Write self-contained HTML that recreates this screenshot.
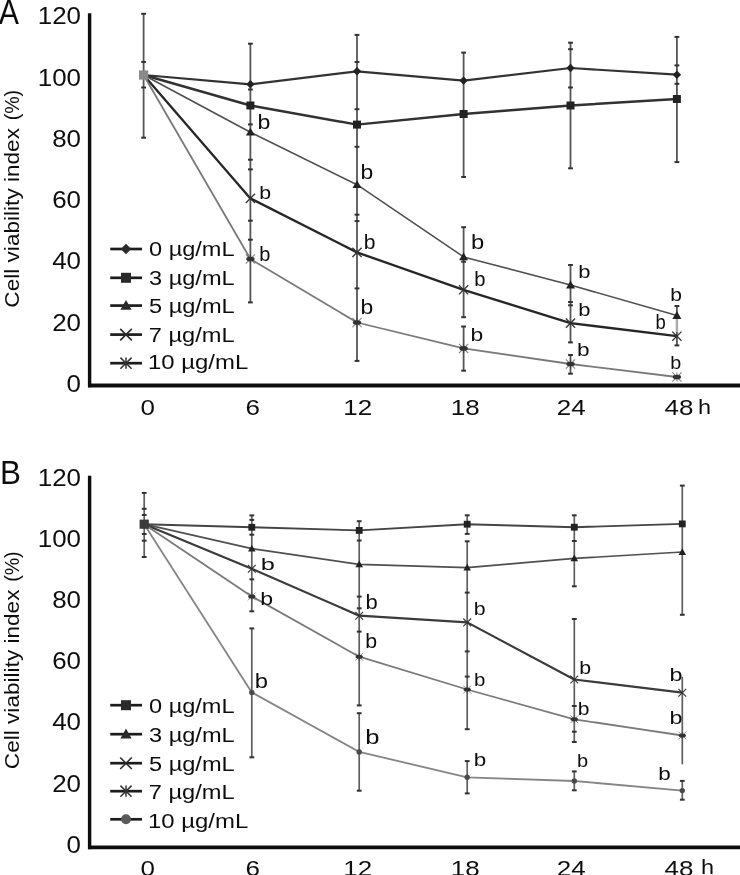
<!DOCTYPE html>
<html><head><meta charset="utf-8"><style>
html,body{margin:0;padding:0;background:#fff;}
body{width:740px;height:875px;overflow:hidden;font-family:"Liberation Sans",sans-serif;}
svg{display:block;will-change:transform;}
</style></head><body>
<svg width="740" height="875" viewBox="0 0 740 875" font-family="Liberation Sans, sans-serif">
<defs><filter id="bl" x="0" y="0" width="740" height="875" filterUnits="userSpaceOnUse"><feGaussianBlur stdDeviation="0.45"/></filter></defs>
<rect width="740" height="875" fill="#fff"/>
<g filter="url(#bl)">
<line x1="89.6" y1="13.3" x2="89.6" y2="387.3" stroke="#111" stroke-width="3.4"/>
<line x1="88" y1="385.5" x2="740" y2="385.5" stroke="#111" stroke-width="3.8"/>
<text transform="translate(66.60,392.06) scale(1.080,1)" font-size="24.00" fill="#111">0</text>
<text transform="translate(52.18,330.76) scale(1.080,1)" font-size="24.00" fill="#111">20</text>
<text transform="translate(52.18,269.46) scale(1.080,1)" font-size="24.00" fill="#111">40</text>
<text transform="translate(52.18,208.16) scale(1.080,1)" font-size="24.00" fill="#111">60</text>
<text transform="translate(52.18,146.86) scale(1.080,1)" font-size="24.00" fill="#111">80</text>
<text transform="translate(37.77,85.56) scale(1.080,1)" font-size="24.00" fill="#111">100</text>
<text transform="translate(37.77,24.26) scale(1.080,1)" font-size="24.00" fill="#111">120</text>
<text transform="translate(140.47,414.95) scale(1.140,1)" font-size="22.80" fill="#111">0</text>
<text transform="translate(245.48,414.95) scale(1.140,1)" font-size="22.80" fill="#111">6</text>
<text transform="translate(343.31,415.06) scale(1.140,1)" font-size="22.80" fill="#111">12</text>
<text transform="translate(450.82,414.95) scale(1.140,1)" font-size="22.80" fill="#111">18</text>
<text transform="translate(556.77,415.06) scale(1.140,1)" font-size="22.80" fill="#111">24</text>
<text transform="translate(664.61,414.95) scale(1.140,1)" font-size="22.80" fill="#111">48</text>
<text transform="translate(697.97,413.60) scale(1.200,1)" font-size="19.60" fill="#111">h</text>
<line x1="676.9" y1="318" x2="676.9" y2="332" stroke="#aaa" stroke-width="2.4"/>
<line x1="143.6" y1="13.8" x2="143.6" y2="137.7" stroke="#555" stroke-width="1.8"/>
<line x1="141.2" y1="13.8" x2="146.0" y2="13.8" stroke="#333" stroke-width="2"/>
<line x1="141.2" y1="61.9" x2="146.0" y2="61.9" stroke="#333" stroke-width="2"/>
<line x1="141.2" y1="87.5" x2="146.0" y2="87.5" stroke="#333" stroke-width="2"/>
<line x1="141.2" y1="137.7" x2="146.0" y2="137.7" stroke="#333" stroke-width="2"/>
<line x1="250.4" y1="43.7" x2="250.4" y2="302.4" stroke="#555" stroke-width="1.8"/>
<line x1="248.0" y1="43.7" x2="252.8" y2="43.7" stroke="#333" stroke-width="2"/>
<line x1="248.0" y1="89.5" x2="252.8" y2="89.5" stroke="#333" stroke-width="2"/>
<line x1="248.0" y1="124.4" x2="252.8" y2="124.4" stroke="#333" stroke-width="2"/>
<line x1="248.0" y1="159.7" x2="252.8" y2="159.7" stroke="#333" stroke-width="2"/>
<line x1="248.0" y1="169.4" x2="252.8" y2="169.4" stroke="#333" stroke-width="2"/>
<line x1="248.0" y1="220.7" x2="252.8" y2="220.7" stroke="#333" stroke-width="2"/>
<line x1="248.0" y1="239.7" x2="252.8" y2="239.7" stroke="#333" stroke-width="2"/>
<line x1="248.0" y1="302.4" x2="252.8" y2="302.4" stroke="#333" stroke-width="2"/>
<line x1="357.0" y1="34.9" x2="357.0" y2="360.9" stroke="#555" stroke-width="1.8"/>
<line x1="354.6" y1="34.9" x2="359.4" y2="34.9" stroke="#333" stroke-width="2"/>
<line x1="354.6" y1="62.0" x2="359.4" y2="62.0" stroke="#333" stroke-width="2"/>
<line x1="354.6" y1="109.2" x2="359.4" y2="109.2" stroke="#333" stroke-width="2"/>
<line x1="354.6" y1="146.8" x2="359.4" y2="146.8" stroke="#333" stroke-width="2"/>
<line x1="354.6" y1="214.7" x2="359.4" y2="214.7" stroke="#333" stroke-width="2"/>
<line x1="354.6" y1="221.1" x2="359.4" y2="221.1" stroke="#333" stroke-width="2"/>
<line x1="354.6" y1="288.4" x2="359.4" y2="288.4" stroke="#333" stroke-width="2"/>
<line x1="354.6" y1="360.9" x2="359.4" y2="360.9" stroke="#333" stroke-width="2"/>
<line x1="463.6" y1="52.6" x2="463.6" y2="177.0" stroke="#555" stroke-width="1.8"/>
<line x1="463.6" y1="227.2" x2="463.6" y2="317.2" stroke="#555" stroke-width="1.8"/>
<line x1="463.6" y1="326.5" x2="463.6" y2="370.7" stroke="#555" stroke-width="1.8"/>
<line x1="461.2" y1="52.6" x2="466.0" y2="52.6" stroke="#333" stroke-width="2"/>
<line x1="461.2" y1="177.0" x2="466.0" y2="177.0" stroke="#333" stroke-width="2"/>
<line x1="461.2" y1="227.2" x2="466.0" y2="227.2" stroke="#333" stroke-width="2"/>
<line x1="461.2" y1="261.7" x2="466.0" y2="261.7" stroke="#333" stroke-width="2"/>
<line x1="461.2" y1="317.2" x2="466.0" y2="317.2" stroke="#333" stroke-width="2"/>
<line x1="461.2" y1="326.5" x2="466.0" y2="326.5" stroke="#333" stroke-width="2"/>
<line x1="461.2" y1="370.7" x2="466.0" y2="370.7" stroke="#333" stroke-width="2"/>
<line x1="570.5" y1="42.7" x2="570.5" y2="168.3" stroke="#555" stroke-width="1.8"/>
<line x1="570.5" y1="265.0" x2="570.5" y2="342.4" stroke="#555" stroke-width="1.8"/>
<line x1="570.5" y1="355.0" x2="570.5" y2="373.7" stroke="#555" stroke-width="1.8"/>
<line x1="568.1" y1="42.7" x2="572.9" y2="42.7" stroke="#333" stroke-width="2"/>
<line x1="568.1" y1="49.2" x2="572.9" y2="49.2" stroke="#333" stroke-width="2"/>
<line x1="568.1" y1="87.5" x2="572.9" y2="87.5" stroke="#333" stroke-width="2"/>
<line x1="568.1" y1="168.3" x2="572.9" y2="168.3" stroke="#333" stroke-width="2"/>
<line x1="568.1" y1="265.0" x2="572.9" y2="265.0" stroke="#333" stroke-width="2"/>
<line x1="568.1" y1="302.0" x2="572.9" y2="302.0" stroke="#333" stroke-width="2"/>
<line x1="568.1" y1="305.3" x2="572.9" y2="305.3" stroke="#333" stroke-width="2"/>
<line x1="568.1" y1="342.4" x2="572.9" y2="342.4" stroke="#333" stroke-width="2"/>
<line x1="568.1" y1="355.0" x2="572.9" y2="355.0" stroke="#333" stroke-width="2"/>
<line x1="568.1" y1="373.7" x2="572.9" y2="373.7" stroke="#333" stroke-width="2"/>
<line x1="676.9" y1="36.9" x2="676.9" y2="162.1" stroke="#555" stroke-width="1.8"/>
<line x1="676.9" y1="306.0" x2="676.9" y2="318.0" stroke="#555" stroke-width="1.8"/>
<line x1="676.9" y1="332.0" x2="676.9" y2="345.4" stroke="#555" stroke-width="1.8"/>
<line x1="674.5" y1="36.9" x2="679.3" y2="36.9" stroke="#333" stroke-width="2"/>
<line x1="674.5" y1="65.4" x2="679.3" y2="65.4" stroke="#333" stroke-width="2"/>
<line x1="674.5" y1="83.8" x2="679.3" y2="83.8" stroke="#333" stroke-width="2"/>
<line x1="674.5" y1="162.1" x2="679.3" y2="162.1" stroke="#333" stroke-width="2"/>
<line x1="674.5" y1="306.0" x2="679.3" y2="306.0" stroke="#333" stroke-width="2"/>
<line x1="674.5" y1="345.4" x2="679.3" y2="345.4" stroke="#333" stroke-width="2"/>
<polyline points="143.6,75.0 250.4,84.3 357.0,71.3 463.6,80.6 570.5,68.0 676.9,74.7" fill="none" stroke="#333" stroke-width="2.2" stroke-linejoin="round"/>
<polyline points="143.6,75.0 250.4,105.5 357.0,124.6 463.6,114.0 570.5,105.5 676.9,99.0" fill="none" stroke="#303030" stroke-width="2.4" stroke-linejoin="round"/>
<polyline points="143.6,75.0 250.4,132.2 357.0,184.7 463.6,256.9 570.5,285.0 676.9,315.5" fill="none" stroke="#505050" stroke-width="1.6" stroke-linejoin="round"/>
<polyline points="143.6,75.0 250.4,198.4 357.0,252.4 463.6,289.8 570.5,323.1 676.9,336.2" fill="none" stroke="#262626" stroke-width="2.3" stroke-linejoin="round"/>
<polyline points="143.6,75.0 250.4,259.0 357.0,322.5 463.6,348.4 570.5,364.0 676.9,377.0" fill="none" stroke="#7a7a7a" stroke-width="1.8" stroke-linejoin="round"/>
<path d="M250.4,80.1L254.6,84.3L250.4,88.5L246.2,84.3Z" fill="#222"/>
<path d="M357.0,67.1L361.2,71.3L357.0,75.5L352.8,71.3Z" fill="#222"/>
<path d="M463.6,76.4L467.8,80.6L463.6,84.8L459.4,80.6Z" fill="#222"/>
<path d="M570.5,63.8L574.7,68.0L570.5,72.2L566.3,68.0Z" fill="#222"/>
<path d="M676.9,70.5L681.1,74.7L676.9,78.9L672.7,74.7Z" fill="#222"/>
<rect x="246.4" y="101.5" width="8.0" height="8.0" fill="#222"/>
<rect x="353.0" y="120.6" width="8.0" height="8.0" fill="#222"/>
<rect x="459.6" y="110.0" width="8.0" height="8.0" fill="#222"/>
<rect x="566.5" y="101.5" width="8.0" height="8.0" fill="#222"/>
<rect x="672.9" y="95.0" width="8.0" height="8.0" fill="#222"/>
<path d="M250.4,127.7L254.9,135.6L245.9,135.6Z" fill="#222"/>
<path d="M357.0,180.2L361.5,188.1L352.5,188.1Z" fill="#222"/>
<path d="M463.6,252.4L468.1,260.3L459.1,260.3Z" fill="#222"/>
<path d="M570.5,280.5L575.0,288.4L566.0,288.4Z" fill="#222"/>
<path d="M676.9,311.0L681.4,318.9L672.4,318.9Z" fill="#222"/>
<path d="M245.8,193.8L255.0,203.0M255.0,193.8L245.8,203.0" stroke="#333" stroke-width="1.30" fill="none"/>
<path d="M352.4,247.8L361.6,257.0M361.6,247.8L352.4,257.0" stroke="#333" stroke-width="1.30" fill="none"/>
<path d="M459.0,285.2L468.2,294.4M468.2,285.2L459.0,294.4" stroke="#333" stroke-width="1.30" fill="none"/>
<path d="M565.9,318.5L575.1,327.7M575.1,318.5L565.9,327.7" stroke="#333" stroke-width="1.30" fill="none"/>
<path d="M672.3,331.6L681.5,340.8M681.5,331.6L672.3,340.8" stroke="#333" stroke-width="1.30" fill="none"/>
<path d="M245.8,254.4L255.0,263.6M255.0,254.4L245.8,263.6M250.4,254.4L250.4,263.6" stroke="#333" stroke-opacity="0.6" stroke-width="1.10" fill="none"/>
<ellipse cx="250.4" cy="259.0" rx="4.2" ry="2.3" fill="#333"/>
<path d="M352.4,317.9L361.6,327.1M361.6,317.9L352.4,327.1M357.0,317.9L357.0,327.1" stroke="#333" stroke-opacity="0.6" stroke-width="1.10" fill="none"/>
<ellipse cx="357.0" cy="322.5" rx="4.2" ry="2.3" fill="#333"/>
<path d="M459.0,343.8L468.2,353.0M468.2,343.8L459.0,353.0M463.6,343.8L463.6,353.0" stroke="#333" stroke-opacity="0.6" stroke-width="1.10" fill="none"/>
<ellipse cx="463.6" cy="348.4" rx="4.2" ry="2.3" fill="#333"/>
<path d="M565.9,359.4L575.1,368.6M575.1,359.4L565.9,368.6M570.5,359.4L570.5,368.6" stroke="#333" stroke-opacity="0.6" stroke-width="1.10" fill="none"/>
<ellipse cx="570.5" cy="364.0" rx="4.2" ry="2.3" fill="#333"/>
<path d="M672.3,372.4L681.5,381.6M681.5,372.4L672.3,381.6M676.9,372.4L676.9,381.6" stroke="#333" stroke-opacity="0.6" stroke-width="1.10" fill="none"/>
<ellipse cx="676.9" cy="377.0" rx="4.2" ry="2.3" fill="#333"/>
<rect x="139.0" y="70.4" width="9.2" height="9.2" fill="#8a8a8a"/>
<text transform="translate(257.61,128.71) scale(1.171,1)" font-size="19.74" fill="#111" >b</text>
<text transform="translate(259.22,199.31) scale(1.112,1)" font-size="19.20" fill="#111" >b</text>
<text transform="translate(259.31,261.40) scale(0.993,1)" font-size="20.15" fill="#111" >b</text>
<text transform="translate(360.62,178.90) scale(1.136,1)" font-size="20.15" fill="#111" >b</text>
<text transform="translate(363.74,249.10) scale(1.048,1)" font-size="20.15" fill="#111" >b</text>
<text transform="translate(360.62,313.80) scale(1.136,1)" font-size="20.15" fill="#111" >b</text>
<text transform="translate(470.97,249.20) scale(1.181,1)" font-size="20.15" fill="#111" >b</text>
<text transform="translate(474.20,286.41) scale(1.032,1)" font-size="19.61" fill="#111" >b</text>
<text transform="translate(470.62,341.11) scale(1.193,1)" font-size="19.20" fill="#111" >b</text>
<text transform="translate(578.18,278.21) scale(1.147,1)" font-size="19.20" fill="#111" >b</text>
<text transform="translate(578.18,315.81) scale(1.155,1)" font-size="19.06" fill="#111" >b</text>
<text transform="translate(576.94,356.01) scale(1.181,1)" font-size="19.20" fill="#111" >b</text>
<text transform="translate(670.14,301.42) scale(1.132,1)" font-size="18.66" fill="#111" >b</text>
<text transform="translate(655.51,328.80) scale(0.892,1)" font-size="20.70" fill="#111" >b</text>
<text transform="translate(670.22,368.73) scale(1.127,1)" font-size="17.57" fill="#111" >b</text>
<line x1="89.6" y1="475.7" x2="89.6" y2="849.1999999999999" stroke="#111" stroke-width="3.4"/>
<line x1="88" y1="847.4" x2="740" y2="847.4" stroke="#111" stroke-width="3.8"/>
<text transform="translate(66.60,852.76) scale(1.080,1)" font-size="24.00" fill="#111">0</text>
<text transform="translate(52.18,791.56) scale(1.080,1)" font-size="24.00" fill="#111">20</text>
<text transform="translate(52.18,730.36) scale(1.080,1)" font-size="24.00" fill="#111">40</text>
<text transform="translate(52.18,669.16) scale(1.080,1)" font-size="24.00" fill="#111">60</text>
<text transform="translate(52.18,607.96) scale(1.080,1)" font-size="24.00" fill="#111">80</text>
<text transform="translate(37.77,546.76) scale(1.080,1)" font-size="24.00" fill="#111">100</text>
<text transform="translate(37.77,485.56) scale(1.080,1)" font-size="24.00" fill="#111">120</text>
<text transform="translate(140.47,875.65) scale(1.140,1)" font-size="22.80" fill="#111">0</text>
<text transform="translate(245.48,875.65) scale(1.140,1)" font-size="22.80" fill="#111">6</text>
<text transform="translate(343.31,875.76) scale(1.140,1)" font-size="22.80" fill="#111">12</text>
<text transform="translate(450.82,875.65) scale(1.140,1)" font-size="22.80" fill="#111">18</text>
<text transform="translate(556.77,875.76) scale(1.140,1)" font-size="22.80" fill="#111">24</text>
<text transform="translate(664.61,875.65) scale(1.140,1)" font-size="22.80" fill="#111">48</text>
<text transform="translate(700.97,874.30) scale(1.200,1)" font-size="19.60" fill="#111">h</text>
<line x1="144.2" y1="492.9" x2="144.2" y2="557.0" stroke="#5e5e5e" stroke-width="1.7"/>
<line x1="141.8" y1="492.9" x2="146.6" y2="492.9" stroke="#333" stroke-width="2"/>
<line x1="141.8" y1="508.8" x2="146.6" y2="508.8" stroke="#333" stroke-width="2"/>
<line x1="141.8" y1="515.0" x2="146.6" y2="515.0" stroke="#333" stroke-width="2"/>
<line x1="141.8" y1="534.0" x2="146.6" y2="534.0" stroke="#333" stroke-width="2"/>
<line x1="141.8" y1="540.7" x2="146.6" y2="540.7" stroke="#333" stroke-width="2"/>
<line x1="141.8" y1="557.0" x2="146.6" y2="557.0" stroke="#333" stroke-width="2"/>
<line x1="251.8" y1="515.4" x2="251.8" y2="611.3" stroke="#5e5e5e" stroke-width="1.7"/>
<line x1="251.8" y1="628.4" x2="251.8" y2="757.3" stroke="#5e5e5e" stroke-width="1.7"/>
<line x1="249.4" y1="515.4" x2="254.2" y2="515.4" stroke="#333" stroke-width="2"/>
<line x1="249.4" y1="519.9" x2="254.2" y2="519.9" stroke="#333" stroke-width="2"/>
<line x1="249.4" y1="534.7" x2="254.2" y2="534.7" stroke="#333" stroke-width="2"/>
<line x1="249.4" y1="579.3" x2="254.2" y2="579.3" stroke="#333" stroke-width="2"/>
<line x1="249.4" y1="611.3" x2="254.2" y2="611.3" stroke="#333" stroke-width="2"/>
<line x1="249.4" y1="628.4" x2="254.2" y2="628.4" stroke="#333" stroke-width="2"/>
<line x1="249.4" y1="757.3" x2="254.2" y2="757.3" stroke="#333" stroke-width="2"/>
<line x1="359.2" y1="521.2" x2="359.2" y2="705.4" stroke="#5e5e5e" stroke-width="1.7"/>
<line x1="359.2" y1="713.2" x2="359.2" y2="790.7" stroke="#5e5e5e" stroke-width="1.7"/>
<line x1="356.8" y1="521.2" x2="361.6" y2="521.2" stroke="#333" stroke-width="2"/>
<line x1="356.8" y1="540.5" x2="361.6" y2="540.5" stroke="#333" stroke-width="2"/>
<line x1="356.8" y1="596.6" x2="361.6" y2="596.6" stroke="#333" stroke-width="2"/>
<line x1="356.8" y1="608.3" x2="361.6" y2="608.3" stroke="#333" stroke-width="2"/>
<line x1="356.8" y1="631.6" x2="361.6" y2="631.6" stroke="#333" stroke-width="2"/>
<line x1="356.8" y1="705.4" x2="361.6" y2="705.4" stroke="#333" stroke-width="2"/>
<line x1="356.8" y1="713.2" x2="361.6" y2="713.2" stroke="#333" stroke-width="2"/>
<line x1="356.8" y1="790.7" x2="361.6" y2="790.7" stroke="#333" stroke-width="2"/>
<line x1="467.2" y1="515.3" x2="467.2" y2="533.9" stroke="#5e5e5e" stroke-width="1.7"/>
<line x1="467.2" y1="541.3" x2="467.2" y2="729.2" stroke="#5e5e5e" stroke-width="1.7"/>
<line x1="467.2" y1="761.1" x2="467.2" y2="793.4" stroke="#5e5e5e" stroke-width="1.7"/>
<line x1="464.8" y1="515.3" x2="469.6" y2="515.3" stroke="#333" stroke-width="2"/>
<line x1="464.8" y1="533.9" x2="469.6" y2="533.9" stroke="#333" stroke-width="2"/>
<line x1="464.8" y1="541.3" x2="469.6" y2="541.3" stroke="#333" stroke-width="2"/>
<line x1="464.8" y1="592.6" x2="469.6" y2="592.6" stroke="#333" stroke-width="2"/>
<line x1="464.8" y1="651.4" x2="469.6" y2="651.4" stroke="#333" stroke-width="2"/>
<line x1="464.8" y1="676.6" x2="469.6" y2="676.6" stroke="#333" stroke-width="2"/>
<line x1="464.8" y1="729.2" x2="469.6" y2="729.2" stroke="#333" stroke-width="2"/>
<line x1="464.8" y1="761.1" x2="469.6" y2="761.1" stroke="#333" stroke-width="2"/>
<line x1="464.8" y1="793.4" x2="469.6" y2="793.4" stroke="#333" stroke-width="2"/>
<line x1="574.3" y1="515.3" x2="574.3" y2="586.3" stroke="#5e5e5e" stroke-width="1.7"/>
<line x1="574.3" y1="619.0" x2="574.3" y2="742.0" stroke="#5e5e5e" stroke-width="1.7"/>
<line x1="574.3" y1="771.4" x2="574.3" y2="790.3" stroke="#5e5e5e" stroke-width="1.7"/>
<line x1="571.9" y1="515.3" x2="576.7" y2="515.3" stroke="#333" stroke-width="2"/>
<line x1="571.9" y1="541.0" x2="576.7" y2="541.0" stroke="#333" stroke-width="2"/>
<line x1="571.9" y1="586.3" x2="576.7" y2="586.3" stroke="#333" stroke-width="2"/>
<line x1="571.9" y1="619.0" x2="576.7" y2="619.0" stroke="#333" stroke-width="2"/>
<line x1="571.9" y1="706.0" x2="576.7" y2="706.0" stroke="#333" stroke-width="2"/>
<line x1="571.9" y1="731.7" x2="576.7" y2="731.7" stroke="#333" stroke-width="2"/>
<line x1="571.9" y1="742.0" x2="576.7" y2="742.0" stroke="#333" stroke-width="2"/>
<line x1="571.9" y1="771.4" x2="576.7" y2="771.4" stroke="#333" stroke-width="2"/>
<line x1="571.9" y1="790.3" x2="576.7" y2="790.3" stroke="#333" stroke-width="2"/>
<line x1="682.3" y1="485.6" x2="682.3" y2="614.8" stroke="#5e5e5e" stroke-width="1.7"/>
<line x1="682.3" y1="676.9" x2="682.3" y2="764.3" stroke="#5e5e5e" stroke-width="1.7"/>
<line x1="682.3" y1="780.9" x2="682.3" y2="799.7" stroke="#5e5e5e" stroke-width="1.7"/>
<line x1="679.9" y1="485.6" x2="684.7" y2="485.6" stroke="#333" stroke-width="2"/>
<line x1="679.9" y1="614.8" x2="684.7" y2="614.8" stroke="#333" stroke-width="2"/>
<line x1="679.9" y1="780.9" x2="684.7" y2="780.9" stroke="#333" stroke-width="2"/>
<line x1="679.9" y1="799.7" x2="684.7" y2="799.7" stroke="#333" stroke-width="2"/>
<polyline points="144.2,524.2 251.8,527.3 359.2,530.4 467.2,524.2 574.3,527.2 682.3,523.9" fill="none" stroke="#444" stroke-width="1.9" stroke-linejoin="round"/>
<polyline points="144.2,524.2 251.8,548.6 359.2,564.4 467.2,567.6 574.3,558.4 682.3,552.0" fill="none" stroke="#505050" stroke-width="1.7" stroke-linejoin="round"/>
<polyline points="144.2,524.2 251.8,568.7 359.2,615.7 467.2,622.4 574.3,679.5 682.3,692.7" fill="none" stroke="#3a3a3a" stroke-width="2.2" stroke-linejoin="round"/>
<polyline points="144.2,524.2 251.8,596.4 359.2,656.7 467.2,689.5 574.3,719.3 682.3,735.5" fill="none" stroke="#7a7a7a" stroke-width="1.8" stroke-linejoin="round"/>
<polyline points="144.2,524.2 251.8,692.4 359.2,751.9 467.2,777.3 574.3,781.0 682.3,790.6" fill="none" stroke="#858585" stroke-width="1.8" stroke-linejoin="round"/>
<rect x="248.4" y="523.9" width="6.8" height="6.8" fill="#222"/>
<rect x="355.8" y="527.0" width="6.8" height="6.8" fill="#222"/>
<rect x="463.8" y="520.8" width="6.8" height="6.8" fill="#222"/>
<rect x="570.9" y="523.8" width="6.8" height="6.8" fill="#222"/>
<rect x="678.9" y="520.5" width="6.8" height="6.8" fill="#222"/>
<path d="M251.8,544.8L255.6,551.5L248.0,551.5Z" fill="#222"/>
<path d="M359.2,560.6L363.0,567.3L355.4,567.3Z" fill="#222"/>
<path d="M467.2,563.8L471.0,570.5L463.4,570.5Z" fill="#222"/>
<path d="M574.3,554.6L578.1,561.3L570.5,561.3Z" fill="#222"/>
<path d="M682.3,548.2L686.1,554.9L678.5,554.9Z" fill="#222"/>
<path d="M247.9,564.8L255.7,572.6M255.7,564.8L247.9,572.6" stroke="#333" stroke-width="1.10" fill="none"/>
<path d="M355.3,611.8L363.1,619.6M363.1,611.8L355.3,619.6" stroke="#333" stroke-width="1.10" fill="none"/>
<path d="M463.3,618.5L471.1,626.3M471.1,618.5L463.3,626.3" stroke="#333" stroke-width="1.10" fill="none"/>
<path d="M570.4,675.6L578.2,683.4M578.2,675.6L570.4,683.4" stroke="#333" stroke-width="1.10" fill="none"/>
<path d="M678.4,688.8L686.2,696.6M686.2,688.8L678.4,696.6" stroke="#333" stroke-width="1.10" fill="none"/>
<path d="M247.9,592.5L255.7,600.3M255.7,592.5L247.9,600.3M251.8,592.5L251.8,600.3" stroke="#333" stroke-opacity="0.6" stroke-width="0.94" fill="none"/>
<ellipse cx="251.8" cy="596.4" rx="3.6" ry="2.0" fill="#333"/>
<path d="M355.3,652.8L363.1,660.6M363.1,652.8L355.3,660.6M359.2,652.8L359.2,660.6" stroke="#333" stroke-opacity="0.6" stroke-width="0.94" fill="none"/>
<ellipse cx="359.2" cy="656.7" rx="3.6" ry="2.0" fill="#333"/>
<path d="M463.3,685.6L471.1,693.4M471.1,685.6L463.3,693.4M467.2,685.6L467.2,693.4" stroke="#333" stroke-opacity="0.6" stroke-width="0.94" fill="none"/>
<ellipse cx="467.2" cy="689.5" rx="3.6" ry="2.0" fill="#333"/>
<path d="M570.4,715.4L578.2,723.2M578.2,715.4L570.4,723.2M574.3,715.4L574.3,723.2" stroke="#333" stroke-opacity="0.6" stroke-width="0.94" fill="none"/>
<ellipse cx="574.3" cy="719.3" rx="3.6" ry="2.0" fill="#333"/>
<path d="M678.4,731.6L686.2,739.4M686.2,731.6L678.4,739.4M682.3,731.6L682.3,739.4" stroke="#333" stroke-opacity="0.6" stroke-width="0.94" fill="none"/>
<ellipse cx="682.3" cy="735.5" rx="3.6" ry="2.0" fill="#333"/>
<circle cx="251.8" cy="692.4" r="2.7" fill="#4a4a4a"/>
<circle cx="359.2" cy="751.9" r="2.7" fill="#4a4a4a"/>
<circle cx="467.2" cy="777.3" r="2.7" fill="#4a4a4a"/>
<circle cx="574.3" cy="781.0" r="2.7" fill="#4a4a4a"/>
<circle cx="682.3" cy="790.6" r="2.7" fill="#4a4a4a"/>
<rect x="139.6" y="519.6" width="9.2" height="9.2" fill="#3a3a3a"/>
<text transform="translate(260.77,570.43) scale(1.477,1)" font-size="17.16" fill="#111" >b</text>
<text transform="translate(260.21,604.92) scale(1.231,1)" font-size="18.79" fill="#111" >b</text>
<text transform="translate(254.77,688.31) scale(1.231,1)" font-size="19.34" fill="#111" >b</text>
<text transform="translate(365.58,609.10) scale(1.092,1)" font-size="20.15" fill="#111" >b</text>
<text transform="translate(365.22,647.80) scale(1.059,1)" font-size="20.15" fill="#111" >b</text>
<text transform="translate(365.15,743.91) scale(1.323,1)" font-size="19.34" fill="#111" >b</text>
<text transform="translate(473.72,615.11) scale(1.112,1)" font-size="19.20" fill="#111" >b</text>
<text transform="translate(474.08,685.71) scale(1.066,1)" font-size="19.20" fill="#111" >b</text>
<text transform="translate(473.75,766.02) scale(1.213,1)" font-size="18.52" fill="#111" >b</text>
<text transform="translate(579.22,673.81) scale(1.112,1)" font-size="19.20" fill="#111" >b</text>
<text transform="translate(577.64,714.62) scale(1.141,1)" font-size="18.52" fill="#111" >b</text>
<text transform="translate(577.11,767.12) scale(1.081,1)" font-size="18.52" fill="#111" >b</text>
<text transform="translate(669.40,681.22) scale(1.243,1)" font-size="18.79" fill="#111" >b</text>
<text transform="translate(669.40,723.92) scale(1.252,1)" font-size="18.66" fill="#111" >b</text>
<text transform="translate(658.25,780.32) scale(1.195,1)" font-size="18.79" fill="#111" >b</text>
<text transform="translate(-1.26,24.00) scale(0.880,1)" font-size="34.45" fill="#111" >A</text>
<text transform="translate(-0.07,484.10) scale(0.951,1)" font-size="32.99" fill="#111" >B</text>
<text transform="translate(19.30,307.65) rotate(-90) scale(1.092,1)" font-size="20.71" fill="#111">Cell viability index</text>
<text transform="translate(19.30,120.31) rotate(-90) scale(0.945,1)" font-size="20.71" fill="#111">(%)</text>
<text transform="translate(19.30,769.15) rotate(-90) scale(1.092,1)" font-size="20.71" fill="#111">Cell viability index</text>
<text transform="translate(19.30,581.81) rotate(-90) scale(0.945,1)" font-size="20.71" fill="#111">(%)</text>
<line x1="110.2" y1="249.0" x2="142" y2="249.0" stroke="#1e1e1e" stroke-width="2.7"/>
<path d="M126.0,243.8L131.2,249.0L126.0,254.2L120.8,249.0Z" fill="#2a2a2a"/>
<text transform="translate(148.98,255.80) scale(1.222,1)" font-size="19.30" fill="#111">0 µg/mL</text>
<line x1="110.2" y1="277.8" x2="142" y2="277.8" stroke="#1e1e1e" stroke-width="2.7"/>
<rect x="121.0" y="272.8" width="10.0" height="10.0" fill="#2a2a2a"/>
<text transform="translate(149.00,285.00) scale(1.222,1)" font-size="19.30" fill="#111">3 µg/mL</text>
<line x1="110.2" y1="305.6" x2="142" y2="305.6" stroke="#1e1e1e" stroke-width="2.7"/>
<path d="M126.0,300.0L131.6,309.8L120.4,309.8Z" fill="#2a2a2a"/>
<text transform="translate(148.96,312.80) scale(1.223,1)" font-size="19.30" fill="#111">5 µg/mL</text>
<line x1="110.2" y1="334.6" x2="142" y2="334.6" stroke="#1e1e1e" stroke-width="2.7"/>
<path d="M120.2,328.9L131.8,340.4M131.8,328.9L120.2,340.4" stroke="#2a2a2a" stroke-width="1.62" fill="none"/>
<text transform="translate(148.69,341.60) scale(1.226,1)" font-size="19.30" fill="#111">7 µg/mL</text>
<line x1="110.2" y1="363.2" x2="142" y2="363.2" stroke="#1e1e1e" stroke-width="2.7"/>
<path d="M120.4,357.6L131.6,368.8M131.6,357.6L120.4,368.8M126,357.6L126,368.8" stroke="#333" stroke-width="1.5" fill="none"/>
<text transform="translate(148.08,369.40) scale(1.239,1)" font-size="19.30" fill="#111">10 µg/mL</text>
<line x1="110.2" y1="705.2" x2="142" y2="705.2" stroke="#1e1e1e" stroke-width="2.7"/>
<rect x="121.0" y="700.2" width="10.0" height="10.0" fill="#2a2a2a"/>
<text transform="translate(148.98,713.40) scale(1.222,1)" font-size="19.30" fill="#111">0 µg/mL</text>
<line x1="110.2" y1="734.2" x2="142" y2="734.2" stroke="#1e1e1e" stroke-width="2.7"/>
<path d="M126.0,728.6L131.6,738.4L120.4,738.4Z" fill="#2a2a2a"/>
<text transform="translate(149.00,742.20) scale(1.222,1)" font-size="19.30" fill="#111">3 µg/mL</text>
<line x1="110.2" y1="763.2" x2="142" y2="763.2" stroke="#1e1e1e" stroke-width="2.7"/>
<path d="M120.2,757.5L131.8,769.0M131.8,757.5L120.2,769.0" stroke="#2a2a2a" stroke-width="1.62" fill="none"/>
<text transform="translate(148.96,770.80) scale(1.223,1)" font-size="19.30" fill="#111">5 µg/mL</text>
<line x1="110.2" y1="791.2" x2="142" y2="791.2" stroke="#1e1e1e" stroke-width="2.7"/>
<path d="M120.4,785.6L131.6,796.8M131.6,785.6L120.4,796.8M126,785.6L126,796.8" stroke="#333" stroke-width="1.5" fill="none"/>
<text transform="translate(148.69,799.20) scale(1.226,1)" font-size="19.30" fill="#111">7 µg/mL</text>
<line x1="110.2" y1="819.3" x2="142" y2="819.3" stroke="#1e1e1e" stroke-width="2.7"/>
<circle cx="126" cy="819.3" r="5" fill="#5a5a5a"/>
<text transform="translate(148.08,827.50) scale(1.239,1)" font-size="19.30" fill="#111">10 µg/mL</text>
</g>
</svg>
</body></html>
